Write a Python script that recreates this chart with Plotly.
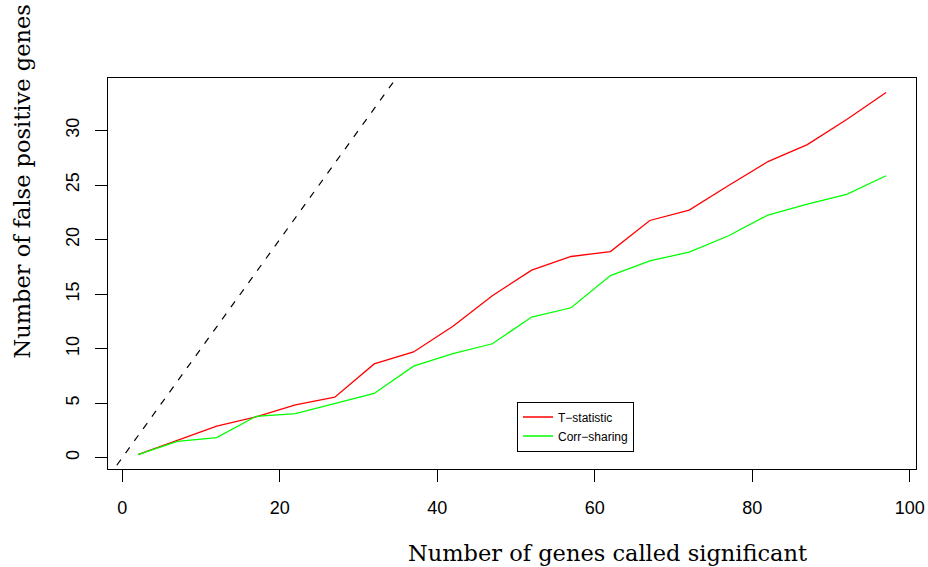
import plotly.graph_objects as go

# Number of genes called significant
n_called = [2, 7, 12, 17, 22, 27, 32, 37, 42, 47, 52, 57, 62, 67, 72, 77, 82, 87, 92, 97]

# Estimated number of false positives for each ranking method
t_statistic = [0.3, 1.6, 2.9, 3.75, 4.85, 5.55, 8.6, 9.7, 12.05, 14.85,
               17.2, 18.45, 18.9, 21.75, 22.7, 24.95, 27.15, 28.7, 31.0, 33.48]
corr_sharing = [0.3, 1.5, 1.85, 3.8, 4.05, 4.95, 5.9, 8.4, 9.55, 10.45,
                12.9, 13.75, 16.7, 18.05, 18.85, 20.35, 22.25, 23.25, 24.15, 25.85]

x_ticks = [0, 20, 40, 60, 80, 100]
y_ticks = [0, 5, 10, 15, 20, 25, 30]


def padded_range(values, frac=0.04):
    lo, hi = min(values), max(values)
    pad = (hi - lo) * frac
    return [lo - pad, hi + pad]


x_range = padded_range(n_called)
y_range = padded_range(t_statistic + corr_sharing)

fig = go.Figure()

# identity line: every called gene a false positive
fig.add_trace(go.Scatter(
    x=x_range, y=x_range, mode="lines",
    line=dict(color="black", width=1.2, dash="7px,8px"),
    showlegend=False, hoverinfo="skip",
))

fig.add_trace(go.Scatter(
    x=n_called, y=t_statistic, mode="lines", name="T\u2212statistic",
    line=dict(color="#FF0000", width=1.3),
))
fig.add_trace(go.Scatter(
    x=n_called, y=corr_sharing, mode="lines", name="Corr\u2212sharing",
    line=dict(color="#00FF00", width=1.3),
))

L, R, T, B = 108, 12, 78, 98
W, H = 928, 567
pw, ph = W - L - R, H - T - B

axis_common = dict(
    showgrid=False, zeroline=False, automargin=False,
    showline=True, linecolor="black", linewidth=1, mirror=True,
    ticks="outside", ticklen=12, tickwidth=1, tickcolor="black",
    tickfont=dict(family="Liberation Sans, Arial, sans-serif", size=18, color="black"),
)

fig.update_layout(
    width=W, height=H,
    margin=dict(l=L, r=R, t=T, b=B, autoexpand=False),
    plot_bgcolor="white", paper_bgcolor="white",
    xaxis=dict(range=x_range, tickvals=x_ticks, ticklabelstandoff=10,
               ticklabeloverflow="allow", **axis_common),
    yaxis=dict(range=y_range, tickvals=y_ticks, tickangle=-90, ticklabelstandoff=9,
               **axis_common),
    legend=dict(
        x=(517 - L) / pw, y=(H - B - 401.5) / ph,
        xanchor="left", yanchor="top",
        bordercolor="black", borderwidth=1, bgcolor="white",
        font=dict(family="Liberation Sans, Arial, sans-serif", size=12, color="black"),
        itemwidth=30, tracegroupgap=0,
    ),
    annotations=[
        dict(text="Number of genes called significant",
             xref="paper", yref="paper",
             x=(607.5 - L) / pw, y=(H - B - 553) / ph,
             xanchor="center", yanchor="middle", showarrow=False,
             font=dict(family="DejaVu Serif, serif", size=22.5, color="black")),
        dict(text="Number of false positive genes",
             xref="paper", yref="paper",
             x=(21 - L) / pw, y=(H - B - 181.5) / ph,
             xanchor="center", yanchor="middle", showarrow=False, textangle=-90,
             font=dict(family="DejaVu Serif, serif", size=22.5, color="black")),
    ],
)

fig.write_html("out.html")
